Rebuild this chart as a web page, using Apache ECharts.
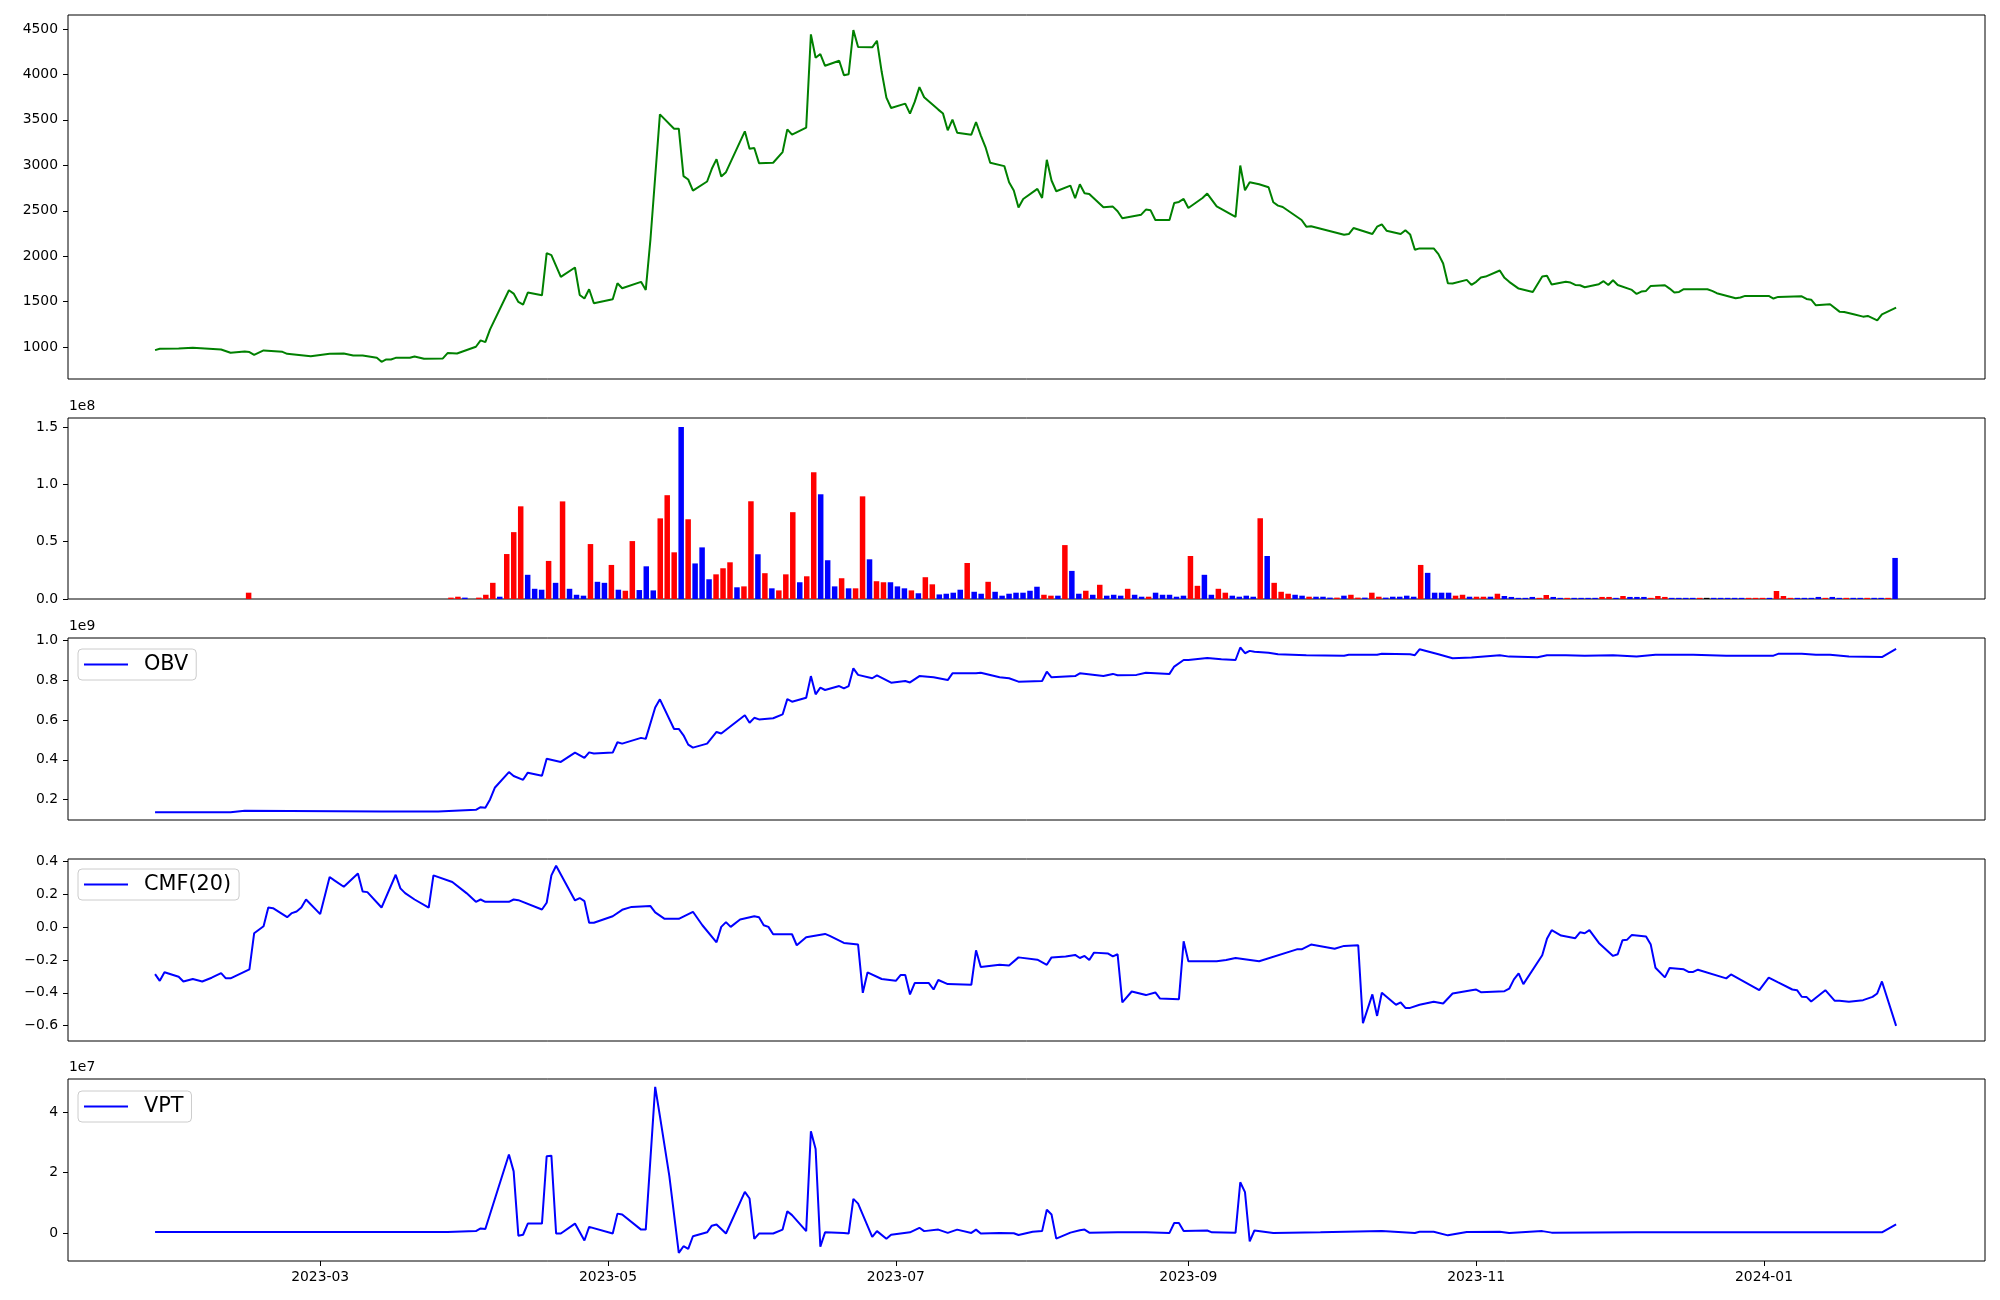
<!DOCTYPE html>
<html>
<head>
<meta charset="utf-8">
<script src="https://cdn.jsdelivr.net/npm/echarts@6/dist/echarts.min.js"></script>
<style>html,body{margin:0;padding:0;background:#fff}#c{width:2000px;height:1300px}</style>
</head>
<body>
<div id="c"></div>
<script>
// x positions of line series: days since 2023-01-01
const tickDays = [59, 120, 181, 243, 304, 365];
const tickLabels = ['2023-03', '2023-05', '2023-07', '2023-09', '2023-11', '2024-01'];

const closePts = [[24,967],[25,981],[29,985],[32,992],[38,974],[40,938],[43,952],[44,945],[45,915],[47,963],[51,948],[52,926],[57,900],[61,926],[64,930],[66,908],[68,908],[71,882],[72,838],[73,864],[74,864],[75,882],[78,882],[79,897],[81,871],[85,875],[86,934],[88,930],[92,1004],[93,1074],[94,1055],[95,1195],[99,1625],[100,1589],[101,1497],[102,1467],[103,1600],[106,1570],[107,2034],[108,2012],[110,1773],[113,1876],[114,1574],[115,1534],[116,1636],[117,1482],[121,1526],[122,1703],[123,1648],[127,1718],[128,1629],[129,2189],[131,3561],[134,3403],[135,3403],[136,2881],[137,2844],[138,2722],[141,2822],[142,2962],[143,3068],[144,2877],[145,2925],[149,3374],[150,3182],[151,3190],[152,3024],[155,3028],[157,3146],[158,3396],[159,3337],[162,3414],[163,4441],[164,4183],[165,4224],[166,4095],[169,4150],[170,3992],[171,4003],[172,4489],[173,4301],[176,4298],[177,4371],[178,4029],[179,3745],[180,3631],[183,3679],[184,3569],[185,3698],[186,3860],[187,3749],[190,3613],[191,3569],[192,3385],[193,3503],[194,3359],[197,3337],[198,3477],[199,3330],[200,3201],[201,3028],[204,2991],[205,2814],[206,2722],[207,2535],[208,2630],[211,2741],[212,2641],[213,3061],[214,2833],[215,2715],[218,2777],[219,2638],[220,2792],[221,2693],[222,2685],[225,2538],[227,2546],[228,2494],[229,2417],[233,2457],[234,2513],[235,2505],[236,2398],[239,2398],[240,2586],[241,2597],[242,2630],[243,2531],[246,2641],[247,2689],[249,2549],[253,2432],[254,2998],[255,2726],[256,2814],[258,2792],[260,2759],[261,2594],[262,2557],[263,2542],[267,2398],[268,2325],[269,2329],[276,2236],[277,2244],[278,2310],[282,2244],[283,2325],[284,2351],[285,2281],[288,2244],[289,2285],[290,2240],[291,2071],[292,2086],[295,2086],[296,2023],[297,1920],[298,1703],[299,1699],[302,1740],[303,1684],[304,1718],[305,1765],[306,1776],[309,1843],[310,1762],[311,1718],[313,1644],[316,1607],[318,1776],[319,1784],[320,1688],[323,1718],[324,1710],[325,1684],[326,1681],[327,1659],[330,1692],[331,1725],[332,1684],[333,1736],[334,1684],[337,1629],[338,1585],[339,1611],[340,1618],[341,1673],[344,1681],[345,1644],[346,1600],[347,1607],[348,1637],[353,1637],[354,1618],[355,1593],[359,1537],[360,1545],[361,1563],[366,1563],[367,1534],[368,1552],[373,1559],[374,1530],[375,1522],[376,1460],[379,1471],[381,1390],[382,1386],[384,1361],[386,1335],[387,1343],[389,1294],[390,1361],[393,1434]];

// volume per trading-day index (units of 1e8); direction 1 = up (red), -1 = down (blue), 0 = unchanged
const volumeE8 = [
0,0,0,0,0,0,0,0,0,0,
0,0,0,0.055,0,0,0,0,0,0,
0,0,0,0,0,0,0,0,0,0,
0,0,0,0,0,0,0,0,0,0,
0,0,0.012,0.02,0.012,0,0.012,0.037,0.141,0.02,
0.392,0.583,0.808,0.211,0.089,0.081,0.332,0.141,0.851,0.089,
0.037,0.029,0.479,0.15,0.141,0.297,0.081,0.072,0.505,0.078,
0.285,0.075,0.703,0.905,0.407,1.5,0.695,0.31,0.45,0.172,
0.215,0.268,0.32,0.102,0.11,0.852,0.39,0.225,0.093,0.075,
0.215,0.757,0.146,0.198,1.105,0.913,0.338,0.11,0.181,0.093,
0.093,0.895,0.346,0.155,0.146,0.146,0.11,0.093,0.075,0.05,
0.19,0.128,0.04,0.046,0.055,0.081,0.314,0.063,0.046,0.15,
0.063,0.029,0.046,0.055,0.055,0.072,0.107,0.037,0.029,0.029,
0.47,0.245,0.046,0.072,0.037,0.124,0.029,0.037,0.029,0.089,
0.037,0.02,0.02,0.055,0.037,0.037,0.02,0.029,0.375,0.115,
0.211,0.037,0.089,0.055,0.029,0.02,0.029,0.02,0.704,0.375,
0.141,0.063,0.046,0.037,0.029,0.02,0.02,0.02,0.012,0.012,
0.029,0.037,0.012,0.012,0.055,0.02,0.012,0.02,0.02,0.029,
0.02,0.297,0.228,0.055,0.055,0.055,0.029,0.037,0.02,0.02,
0.02,0.02,0.046,0.026,0.018,0.01,0.01,0.018,0.01,0.035,
0.018,0.01,0.01,0.01,0.01,0.01,0.01,0.018,0.018,0.01,
0.026,0.018,0.018,0.018,0.01,0.026,0.018,0.01,0.01,0.01,
0.01,0.01,0.01,0.01,0.01,0.01,0.01,0.01,0.01,0.01,
0.01,0.01,0.07,0.026,0.01,0.01,0.01,0.01,0.018,0.01,
0.018,0.01,0.01,0.01,0.01,0.01,0.01,0.01,0.01,0.358];
const volumeDir = [
0,0,0,0,0,0,0,0,0,0,
0,0,0,1,0,0,0,0,0,0,
0,0,0,0,0,0,0,0,0,0,
0,0,0,0,0,0,0,0,0,0,
0,0,1,1,-1,0,1,1,1,-1,
1,1,1,-1,-1,-1,1,-1,1,-1,
-1,-1,1,-1,-1,1,-1,1,1,-1,
-1,-1,1,1,1,-1,1,-1,-1,-1,
1,1,1,-1,1,1,-1,1,-1,1,
1,1,-1,1,1,-1,-1,-1,1,-1,
1,1,-1,1,1,-1,-1,-1,1,-1,
1,1,-1,-1,-1,-1,1,-1,-1,1,
-1,-1,-1,-1,-1,-1,-1,1,1,-1,
1,-1,-1,1,-1,1,-1,-1,-1,1,
-1,-1,1,-1,-1,-1,-1,-1,1,1,
-1,-1,1,1,-1,-1,-1,-1,1,-1,
1,1,1,-1,-1,1,-1,-1,-1,1,
-1,1,1,-1,1,1,-1,-1,-1,-1,
-1,1,-1,-1,-1,-1,1,1,-1,1,
1,-1,1,-1,-1,-1,-1,-1,1,1,
-1,-1,1,-1,-1,-1,-1,1,1,-1,
1,-1,-1,-1,1,1,1,-1,-1,-1,
-1,1,0,-1,-1,-1,-1,-1,1,1,
1,-1,1,1,1,-1,-1,-1,-1,1,
-1,-1,1,-1,-1,1,-1,-1,1,-1];

// OBV (units of 1e9)
const obvPts = [[24,0.136],[40,0.136],[43,0.143],[72,0.139],[84,0.139],[92,0.148],[93,0.161],[94,0.158],[95,0.2],[96,0.259],[99,0.338],[100,0.318],[102,0.299],[103,0.335],[106,0.32],[107,0.405],[110,0.389],[113,0.436],[115,0.409],[116,0.437],[117,0.431],[121,0.436],[122,0.488],[123,0.481],[127,0.51],[128,0.505],[130,0.663],[131,0.704],[134,0.555],[135,0.555],[136,0.523],[137,0.476],[138,0.461],[141,0.481],[143,0.54],[144,0.532],[149,0.624],[150,0.586],[151,0.611],[152,0.603],[155,0.609],[157,0.628],[158,0.705],[159,0.692],[162,0.712],[163,0.821],[164,0.729],[165,0.763],[166,0.751],[169,0.771],[170,0.759],[171,0.771],[172,0.86],[173,0.827],[176,0.81],[177,0.825],[180,0.788],[183,0.796],[184,0.789],[186,0.821],[189,0.815],[192,0.801],[193,0.835],[198,0.835],[199,0.838],[203,0.815],[205,0.81],[207,0.793],[212,0.796],[213,0.843],[214,0.815],[219,0.821],[220,0.835],[225,0.821],[227,0.832],[228,0.825],[232,0.827],[234,0.838],[239,0.832],[240,0.869],[242,0.902],[243,0.902],[247,0.912],[250,0.906],[253,0.902],[254,0.965],[255,0.936],[256,0.948],[257,0.943],[260,0.939],[262,0.931],[268,0.926],[276,0.923],[277,0.928],[283,0.928],[284,0.933],[290,0.931],[291,0.926],[292,0.956],[296,0.931],[299,0.911],[303,0.914],[309,0.926],[311,0.919],[317,0.916],[319,0.926],[323,0.926],[327,0.923],[333,0.926],[338,0.919],[342,0.928],[350,0.929],[357,0.923],[367,0.924],[368,0.933],[373,0.933],[376,0.928],[379,0.929],[383,0.919],[390,0.917],[393,0.958]];

// CMF(20)
const cmfPts = [[24,-0.286],[25,-0.327],[26,-0.275],[29,-0.302],[30,-0.331],[32,-0.316],[34,-0.331],[36,-0.308],[38,-0.28],[39,-0.312],[40,-0.312],[44,-0.257],[45,-0.037],[47,0.006],[48,0.12],[49,0.116],[52,0.061],[53,0.086],[54,0.096],[55,0.12],[56,0.169],[59,0.08],[61,0.306],[62,0.286],[64,0.247],[67,0.327],[68,0.218],[69,0.214],[72,0.12],[75,0.32],[76,0.237],[77,0.208],[79,0.169],[82,0.12],[83,0.316],[87,0.276],[90,0.208],[92,0.155],[93,0.169],[94,0.155],[99,0.155],[100,0.169],[101,0.165],[106,0.108],[107,0.149],[108,0.316],[109,0.375],[113,0.163],[114,0.178],[115,0.159],[116,0.027],[117,0.027],[121,0.067],[123,0.106],[125,0.124],[129,0.129],[130,0.09],[132,0.051],[135,0.051],[138,0.094],[140,0.012],[143,-0.092],[144,0.002],[145,0.031],[146,0.002],[148,0.047],[151,0.067],[152,0.061],[153,0.012],[154,0.002],[155,-0.043],[159,-0.043],[160,-0.11],[162,-0.061],[166,-0.041],[167,-0.053],[170,-0.096],[173,-0.106],[174,-0.4],[175,-0.276],[178,-0.316],[181,-0.327],[182,-0.292],[183,-0.292],[184,-0.41],[185,-0.341],[188,-0.341],[189,-0.38],[190,-0.322],[192,-0.347],[197,-0.351],[198,-0.141],[199,-0.243],[203,-0.229],[205,-0.233],[207,-0.184],[211,-0.198],[213,-0.229],[214,-0.184],[217,-0.178],[219,-0.169],[220,-0.188],[221,-0.175],[222,-0.2],[223,-0.155],[226,-0.161],[227,-0.178],[228,-0.165],[229,-0.459],[231,-0.392],[234,-0.414],[236,-0.398],[237,-0.435],[241,-0.439],[242,-0.086],[243,-0.208],[249,-0.208],[251,-0.2],[253,-0.188],[258,-0.208],[266,-0.135],[267,-0.135],[269,-0.106],[274,-0.131],[276,-0.114],[279,-0.11],[280,-0.586],[282,-0.41],[283,-0.541],[284,-0.4],[287,-0.473],[288,-0.459],[289,-0.492],[290,-0.492],[292,-0.473],[295,-0.455],[297,-0.465],[299,-0.404],[303,-0.384],[304,-0.38],[305,-0.396],[310,-0.39],[311,-0.375],[312,-0.318],[313,-0.282],[314,-0.347],[318,-0.171],[319,-0.071],[320,-0.018],[322,-0.051],[325,-0.067],[326,-0.031],[327,-0.037],[328,-0.018],[330,-0.096],[333,-0.175],[334,-0.165],[335,-0.08],[336,-0.076],[337,-0.047],[340,-0.057],[341,-0.106],[342,-0.247],[344,-0.306],[345,-0.249],[348,-0.257],[349,-0.273],[350,-0.273],[351,-0.259],[357,-0.312],[358,-0.288],[364,-0.384],[366,-0.308],[368,-0.337],[371,-0.38],[372,-0.384],[373,-0.424],[374,-0.425],[375,-0.453],[378,-0.384],[380,-0.449],[381,-0.449],[383,-0.455],[386,-0.445],[388,-0.425],[389,-0.404],[390,-0.331],[393,-0.602]];

// VPT (units of 1e7)
const vptPts = [[24,0.03],[86,0.03],[92,0.06],[93,0.15],[94,0.13],[99,2.6],[100,2.04],[101,-0.09],[102,-0.06],[103,0.31],[106,0.31],[107,2.54],[108,2.56],[109,-0.02],[110,-0.02],[113,0.31],[115,-0.25],[116,0.2],[121,-0.02],[122,0.64],[123,0.61],[127,0.11],[128,0.11],[130,4.84],[131,3.87],[133,1.88],[135,-0.66],[136,-0.44],[137,-0.53],[138,-0.11],[141,0.02],[142,0.24],[143,0.28],[145,-0.02],[149,1.36],[150,1.14],[151,-0.2],[152,-0.02],[155,-0.02],[157,0.11],[158,0.72],[159,0.59],[162,0.06],[163,3.37],[164,2.78],[165,-0.46],[166,0.02],[170,0],[171,-0.02],[172,1.13],[173,0.97],[176,-0.13],[177,0.06],[179,-0.19],[180,-0.06],[184,0.02],[186,0.17],[187,0.06],[190,0.11],[192,0],[194,0.11],[197,0],[198,0.11],[199,-0.02],[203,0],[206,-0.01],[207,-0.07],[210,0.04],[212,0.06],[213,0.77],[214,0.61],[215,-0.19],[218,0.01],[220,0.09],[221,0.11],[222,0.01],[228,0.02],[234,0.02],[239,0],[240,0.33],[241,0.33],[242,0.06],[247,0.08],[248,0.02],[253,0.01],[254,1.68],[255,1.35],[256,-0.28],[257,0.08],[261,0],[271,0.02],[284,0.06],[291,0],[292,0.04],[295,0.04],[298,-0.08],[302,0.03],[309,0.04],[311,0],[318,0.06],[320,0.01],[338,0.02],[365,0.02],[390,0.02],[393,0.28]];

const priceTicks = [1000, 1500, 2000, 2500, 3000, 3500, 4000, 4500];
const volTicks = [0, 0.5, 1.0, 1.5];
const obvTicks = [0.2, 0.4, 0.6, 0.8, 1.0];
const cmfTicks = [-0.6, -0.4, -0.2, 0, 0.2, 0.4];
const vptTicks = [0, 2, 4];

const FONT = 'DejaVu Sans';
const LBL = 13.9;
const XMIN = 5.55, XMAX = 411.84;

function fmt1(v) { return (v < 0 ? '\u2212' : '') + Math.abs(v).toFixed(1); }
function fmt0(v) { return (v < 0 ? '\u2212' : '') + Math.abs(v).toFixed(0); }

function yAxis(gi, min, max, ticks, formatter, name) {
  return {
    type: 'value', gridIndex: gi, min: min, max: max, position: 'left',
    name: name || '', nameLocation: 'end', nameGap: 5,
    nameTextStyle: { align: 'left', verticalAlign: 'bottom', fontSize: LBL, color: '#000', fontFamily: FONT, padding: [0, 0, 0, 1] },
    axisLine: { show: false, onZero: false },
    axisTick: { show: true, length: 5, customValues: ticks, lineStyle: { color: '#000', width: 1 } },
    axisLabel: { show: true, customValues: ticks, formatter: formatter, margin: 10, fontSize: LBL, color: '#000', fontFamily: FONT },
    splitLine: { show: false }
  };
}
function xAxis(gi, showLabels) {
  return {
    type: 'value', gridIndex: gi, min: XMIN, max: XMAX, position: 'bottom',
    axisLine: { show: false, onZero: false },
    axisTick: { show: showLabels, length: 5, customValues: tickDays, lineStyle: { color: '#000', width: 1 } },
    axisLabel: { show: showLabels, customValues: tickDays, margin: 9, fontSize: LBL, color: '#000', fontFamily: FONT,
      formatter: function (v) { const k = tickDays.indexOf(v); return k >= 0 ? tickLabels[k] : ''; } },
    splitLine: { show: false }
  };
}
function legend(name, top) {
  return {
    data: [name], left: 78, top: top, orient: 'horizontal',
    icon: 'rect', itemWidth: 44, itemHeight: 2,
    padding: [5, 8, 5, 6],
    backgroundColor: 'rgba(255,255,255,0.8)', borderColor: '#cccccc', borderWidth: 1, borderRadius: 4,
    textStyle: { fontSize: 20.8, color: '#000', fontFamily: FONT, padding: [0, 0, 0, 11] },
    selectedMode: false
  };
}

const gridBase = { left: 68, right: 15, show: true, borderColor: '#000', borderWidth: 1, containLabel: false };
const volData = volumeE8.map(function (v, i) {
  const d = volumeDir[i];
  return { value: [i, v], itemStyle: { color: d > 0 ? '#ff0000' : (d < 0 ? '#0000ff' : '#000000') } };
});

const chart = echarts.init(document.getElementById('c'), null, { renderer: 'canvas' });
chart.setOption({
  animation: false,
  backgroundColor: '#fff',
  textStyle: { fontFamily: FONT },
  grid: [
    Object.assign({ top: 15, height: 364 }, gridBase),
    Object.assign({ top: 418, height: 181 }, gridBase),
    Object.assign({ top: 638, height: 182 }, gridBase),
    Object.assign({ top: 859, height: 182 }, gridBase),
    Object.assign({ top: 1079, height: 182 }, gridBase)
  ],
  legend: [legend('OBV', 649), legend('CMF(20)', 869), legend('VPT', 1091)],
  xAxis: [
    xAxis(0, false),
    { type: 'value', gridIndex: 1, min: -12.89, max: 261.89, position: 'bottom', axisLine: { show: false, onZero: false }, axisTick: { show: false }, axisLabel: { show: false }, splitLine: { show: false } },
    xAxis(2, false),
    xAxis(3, false),
    xAxis(4, true)
  ],
  yAxis: [
    yAxis(0, 649, 4654, priceTicks, function (v) { return String(v); }),
    yAxis(1, 0, 1.578, volTicks, fmt1, '1e8'),
    yAxis(2, 0.0968, 1.0127, obvTicks, fmt1, '1e9'),
    yAxis(3, -0.694, 0.416, cmfTicks, fmt1),
    yAxis(4, -0.93, 5.1, vptTicks, fmt0, '1e7')
  ],
  series: [
    { name: 'Close', type: 'line', xAxisIndex: 0, yAxisIndex: 0, data: closePts, showSymbol: false, symbol: 'none', lineStyle: { color: '#008000', width: 2 }, itemStyle: { color: '#008000' } },
    { name: 'Volume', type: 'bar', xAxisIndex: 1, yAxisIndex: 1, data: volData, barWidth: 5.5 },
    { name: 'OBV', type: 'line', xAxisIndex: 2, yAxisIndex: 2, data: obvPts, showSymbol: false, symbol: 'none', lineStyle: { color: '#0000ff', width: 2 }, itemStyle: { color: '#0000ff' } },
    { name: 'CMF(20)', type: 'line', xAxisIndex: 3, yAxisIndex: 3, data: cmfPts, showSymbol: false, symbol: 'none', lineStyle: { color: '#0000ff', width: 2 }, itemStyle: { color: '#0000ff' } },
    { name: 'VPT', type: 'line', xAxisIndex: 4, yAxisIndex: 4, data: vptPts, showSymbol: false, symbol: 'none', lineStyle: { color: '#0000ff', width: 2 }, itemStyle: { color: '#0000ff' } }
  ]
});
</script>
</body>
</html>
